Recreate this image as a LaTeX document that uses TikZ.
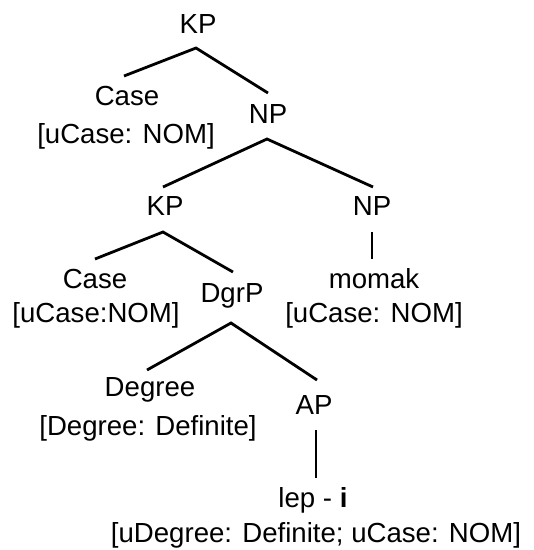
\documentclass[tikz,border=0pt]{standalone}
\usepackage{fontspec}
\setmainfont{Liberation Sans}
\begin{document}
\begin{tikzpicture}[x=1pt,y=-1pt,
  lbl/.style={inner sep=0pt,anchor=base,font=\fontsize{27.6}{33}\selectfont},
  edge/.style={line width=2.8pt}]
\useasboundingbox (0,0) rectangle (534,550);
\node[lbl] (kp1) at (198,33) {KP};
\node[lbl] (case1) at (127,105) {Case};
\node[lbl] (ucase1) at (126,143) {[uCase: NOM]};
\node[lbl] (np1) at (268,123) {NP};
\node[lbl] (kp2) at (165,215) {KP};
\node[lbl] (np2) at (372,215) {NP};
\node[lbl] (case2) at (95,288) {Case};
\node[lbl] (ucase2) at (96,322) {[uCase:NOM]};
\node[lbl] (dgrp) at (232,302) {DgrP};
\node[lbl] (momak) at (374,288) {momak};
\node[lbl] (ucase3) at (374,322) {[uCase: NOM]};
\node[lbl] (degree) at (150,396) {Degree};
\node[lbl] (degdef) at (148,435) {[Degree: Definite]};
\node[lbl] (ap) at (314,414) {AP};
\node[lbl] (lepi) at (313,507) {lep - \textbf{i}};
\node[lbl] (feat) at (316,542) {[uDegree: Definite; uCase: NOM]};
\draw[edge] ([shift={(-3,-29)}]case1.base) -- ([shift={(-2,15)}]kp1.base) -- ([shift={(0,-30)}]np1.base);
\draw[edge] ([shift={(-2,-28)}]kp2.base) -- ([shift={(-1,16)}]np1.base) -- ([shift={(1,-28)}]np2.base);
\draw[edge] ([shift={(0,-29)}]case2.base) -- ([shift={(-2,17)}]kp2.base) -- ([shift={(1,-30)}]dgrp.base);
\draw[edge] ([shift={(0,17)}]np2.base) -- ([shift={(-2,-29)}]momak.base);
\draw[edge] ([shift={(-3,-26)}]degree.base) -- ([shift={(-1,21)}]dgrp.base) -- ([shift={(3,-34)}]ap.base);
\draw[edge] ([shift={(2,16)}]ap.base) -- ([shift={(3,-29)}]lepi.base);
\end{tikzpicture}
\end{document}
